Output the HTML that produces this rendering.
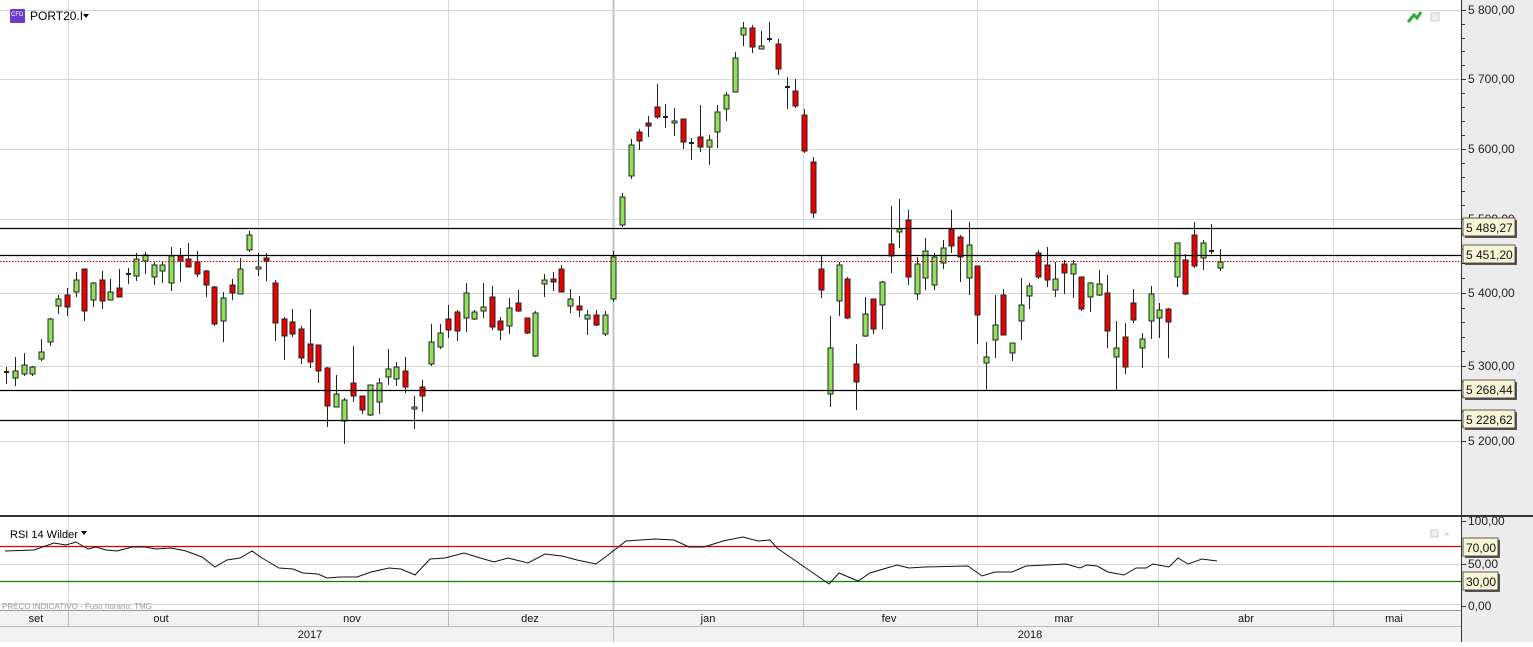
<!DOCTYPE html>
<html><head><meta charset="utf-8"><style>
html,body{margin:0;padding:0;background:#fff;}
body{width:1533px;height:642px;overflow:hidden;font-family:"Liberation Sans",sans-serif;}
</style></head><body>
<svg id="s" width="1533" height="642" xmlns="http://www.w3.org/2000/svg" font-family="Liberation Sans, sans-serif">
<rect x="0" y="0" width="1533" height="642" fill="#fff"/>
<rect x="1461" y="0" width="72" height="642" fill="#ececec"/>
<rect x="0" y="610" width="1461" height="32" fill="#f2f2f2"/>
<g id="grid" stroke="#d6d6d6" stroke-width="1"></g>
<g id="cand"></g>
<g id="over"></g>
</svg>
<script>
var S=document.getElementById('s');
function el(n,a,p,t){var e=document.createElementNS('http://www.w3.org/2000/svg',n);for(var k in a)e.setAttribute(k,a[k]);if(t!==undefined)e.textContent=t;(p||S).appendChild(e);return e;}
var G=document.getElementById('grid'),C=document.getElementById('cand'),O=document.getElementById('over');
[68,258,448,803,977,1158,1333].forEach(function(x){el('line',{x1:x+.5,y1:0,x2:x+.5,y2:610},G);});
el('line',{x1:613.5,y1:0,x2:613.5,y2:610,stroke:'#c4c4c4','stroke-width':2},G);
[10,79,149,219,293,366,441].forEach(function(y){el('line',{x1:0,y1:y+.5,x2:1461,y2:y+.5},G);});
var D=[[372,372,367,384],[378,371,357,386],[374,365,353,376],[374,367,366,376],[359,352,339,361],[342,319,318,346],[306,299,295,314],[295,307,288,316],[292,280,272,297],[269,311,269,321],
[300,283,282,307],[280,301,271,309],[300,292,279,300],[288,297,269,297],[274,274,268,284],[276,259,253,281],[261,255,252,274],[277,265,262,285],[271,265,262,283],[283,256,247,291],
[256,261,248,282],[259,267,243,267],[262,274,251,277],[271,285,270,297],[287,324,286,326],[321,298,292,342],[285,293,279,300],[294,269,258,294],[250,235,231,252],[269,267,253,276],
[258,261,253,281],[283,323,280,341],[319,336,317,360],[322,334,309,337],[329,358,326,364],[344,362,309,368],[345,371,345,383],[368,406,367,427],[407,394,375,407],[421,400,398,444],
[383,396,346,402],[396,410,396,414],[415,385,385,416],[402,383,378,414],[377,369,349,385],[379,367,362,386],[371,387,357,393],[409,407,396,429],[387,396,380,412],[364,342,324,366],
[347,333,324,349],[319,330,305,338],[312,331,310,341],[318,293,283,332],[319,312,310,320],[311,307,283,318],[297,327,286,330],[321,330,317,340],[326,308,298,334],[303,311,290,312],
[318,333,318,334],[356,313,311,357],[284,280,274,297],[279,282,272,291],[269,292,265,292],[306,299,289,313],[306,310,296,317],[319,315,310,335],[315,325,310,326],[334,315,311,336],
[299,257,251,302],[225,197,193,227],[176,145,139,179],[132,141,129,150],[123,126,116,137],[107,117,84,119],[117,117,104,128],[123,121,108,136],[119,142,119,149],[143,143,138,160],
[137,147,105,152],[147,140,135,165],[132,112,105,148],[109,95,92,121],[92,58,52,92],[35,28,22,46],[28,47,25,53],[49,46,31,49],[39,39,22,42],[44,69,39,75],
[87,87,77,109],[91,106,79,108],[115,151,109,153],[162,213,157,218],[269,290,256,298],[394,348,316,407],[301,265,262,316],[279,318,277,319],[364,382,344,410],[336,314,297,337],
[299,329,299,334],[305,282,281,329],[244,256,206,273],[232,229,199,248],[220,277,210,285],[294,264,257,300],[278,251,238,290],[285,257,253,290],[263,248,240,269],[229,246,210,253],
[237,257,235,282],[278,245,222,295],[266,315,266,344],[363,357,342,390],[340,325,295,358],[295,335,289,335],[353,343,343,361],[321,305,278,340],[296,286,283,309],[253,277,250,279],
[265,280,247,287],[290,279,262,297],[264,273,260,294],[274,264,260,298],[277,309,277,311],[297,283,282,312],[295,284,270,296],[293,331,275,348],[357,348,321,390],[337,367,323,374],
[303,320,289,323],[348,339,333,368],[321,294,286,339],[318,310,303,338],[309,322,308,358],[277,243,243,287],[260,294,254,295],[235,266,222,268],[258,243,240,270],[251,251,224,254],[268,262,249,271]];
D.forEach(function(d,i){
  var x=Math.round(6.3+i*8.67);var up=d[1]<d[0];
  var t=Math.min(d[0],d[1]),b=Math.max(d[0],d[1]);
  el('line',{x1:x+.5,y1:d[2],x2:x+.5,y2:d[3],stroke:'#222','stroke-width':1},C);
  if(b-t<1.5){el('rect',{x:x-2,y:t-1,width:5,height:2,fill:'#222'},C);}
  else el('rect',{x:x-2,y:t,width:5,height:b-t,fill:up?'#8fe05a':'#ee0000',stroke:'#222','stroke-width':1},C);
});
[228,255,390,420].forEach(function(y){el('line',{x1:0,y1:y+.5,x2:1461,y2:y+.5,stroke:'#000','stroke-width':1.2},O);});
el('line',{x1:0,y1:261.5,x2:1461,y2:261.5,stroke:'#c00','stroke-width':1,'stroke-dasharray':'1.5,1.5'},O);
el('line',{x1:0,y1:516,x2:1533,y2:516,stroke:'#333','stroke-width':2},O);
el('line',{x1:1461.5,y1:0,x2:1461.5,y2:642,stroke:'#333','stroke-width':1},O);
var P=[['5 800,00',10],['5 700,00',79],['5 600,00',149],['5 500,00',219],['5 400,00',293],['5 300,00',366],['5 200,00',441]];
P.forEach(function(p){el('line',{x1:1461,y1:p[1]+.5,x2:1466,y2:p[1]+.5,stroke:'#333'},O);el('text',{x:1468,y:p[1]+4,'font-size':12,fill:'#222'},O,p[0]);});
for(var k=0;k<P.length-1;k++){var a=P[k][1],b=P[k+1][1];for(var j=1;j<5;j++){var y=Math.round(a+(b-a)*j/5)+.5;el('line',{x1:1461,y1:y,x2:1465,y2:y,stroke:'#333'},O);}}
[['5 489,27',229],['5 451,20',256],['5 268,44',391],['5 228,62',421]].forEach(function(l){
  el('rect',{x:1465,y:l[1]-9,width:52,height:18,fill:'#555'},O);
  el('rect',{x:1463,y:l[1]-11,width:52,height:18,fill:'#f8f5d6',stroke:'#333','stroke-width':.8},O);
  el('text',{x:1466,y:l[1]+3,'font-size':12,fill:'#111'},O,l[0]);});
el('rect',{x:10,y:9,width:15,height:14,fill:'#6a3cc8',rx:1},O);
el('text',{x:11,y:16,'font-size':6,fill:'#fff'},O,'CFD');
el('text',{x:30,y:20,'font-size':12,fill:'#000'},O,'PORT20.I');
el('path',{d:'M83 14 L89 14 L86 18 Z',fill:'#000'},O);
el('path',{d:'M1408 22 L1414 15 L1417 18 L1421 12',stroke:'#3a3',fill:'none','stroke-width':3},O);
el('rect',{x:1431,y:13,width:8,height:8,fill:'#eee',stroke:'#ccc'},O);
el('line',{x1:0,y1:564.5,x2:1461,y2:564.5,stroke:'#d6d6d6'},O);
el('line',{x1:0,y1:604.5,x2:1461,y2:604.5,stroke:'#d6d6d6'},O);
el('line',{x1:0,y1:546.5,x2:1461,y2:546.5,stroke:'#e00000','stroke-width':1.2},O);
el('line',{x1:0,y1:581.5,x2:1461,y2:581.5,stroke:'#0a7a0a','stroke-width':1.2},O);
var R=[[5,551],[34,550],[54,543],[66,545],[76,542],[88,549],[96,547],[106,550],[117,551],[132,547],[145,547],[156,549],[171,548],[186,551],[202,557],[215,567],[227,560],[240,558],[252,551],[262,558],[279,568],[293,569],[303,573],[318,574],[327,578],[340,577],[357,577],[371,572],[389,568],[401,569],[415,575],[430,559],[445,558],[464,553],[477,557],[494,562],[508,558],[528,563],[545,554],[562,556],[577,560],[596,564],[608,555],[626,541],[655,539],[674,540],[689,547],[704,547],[723,541],[743,537],[758,541],[770,540],[777,548],[790,557],[829,584],[839,573],[858,581],[870,573],[897,565],[909,568],[924,567],[968,566],[982,576],[995,572],[1012,572],[1026,566],[1066,564],[1080,568],[1087,565],[1097,566],[1108,572],[1124,575],[1136,568],[1146,568],[1153,564],[1169,567],[1178,558],[1188,564],[1202,559],[1217,561]];
el('polyline',{points:R.map(function(p){return p.join(',');}).join(' '),fill:'none',stroke:'#111','stroke-width':1},O);
el('text',{x:10,y:538,'font-size':11,fill:'#000'},O,'RSI 14 Wilder');
el('path',{d:'M81 531 L87 531 L84 535 Z',fill:'#000'},O);
el('text',{x:2,y:609,'font-size':8,fill:'#999'},O,'PREÇO INDICATIVO - Fuso horário: TMG');
el('rect',{x:1431,y:530,width:7,height:7,fill:'#eee',stroke:'#ccc'},O);
el('text',{x:1444,y:537,'font-size':9,fill:'#bbb'},O,'×');
[['100,00',521],['50,00',564],['0,00',606]].forEach(function(p){el('line',{x1:1461,y1:p[1]+.5,x2:1466,y2:p[1]+.5,stroke:'#333'},O);el('text',{x:1468,y:p[1]+4,'font-size':12,fill:'#222'},O,p[0]);});
[['70,00',548],['30,00',582]].forEach(function(l){
  el('rect',{x:1465,y:l[1]-8,width:35,height:18,fill:'#555'},O);
  el('rect',{x:1463,y:l[1]-10,width:35,height:18,fill:'#f8f5d6',stroke:'#333','stroke-width':.8},O);
  el('text',{x:1466,y:l[1]+4,'font-size':12,fill:'#111'},O,l[0]);});
el('line',{x1:0,y1:610.5,x2:1461,y2:610.5,stroke:'#999'},O);
el('line',{x1:0,y1:626.5,x2:1461,y2:626.5,stroke:'#bbb'},O);
[68,258,448,613,803,977,1158,1333].forEach(function(x){el('line',{x1:x+.5,y1:611,x2:x+.5,y2:626,stroke:'#bbb'},O);});
el('line',{x1:613.5,y1:626,x2:613.5,y2:642,stroke:'#bbb'},O);
[['set',36],['out',161],['nov',352],['dez',530],['jan',708],['fev',889],['mar',1064],['abr',1246],['mai',1394]].forEach(function(m){el('text',{x:m[1],y:622,'font-size':11,fill:'#111','text-anchor':'middle'},O,m[0]);});
el('text',{x:310,y:638,'font-size':11,fill:'#111','text-anchor':'middle'},O,'2017');
el('text',{x:1030,y:638,'font-size':11,fill:'#111','text-anchor':'middle'},O,'2018');
</script>
</body></html>
